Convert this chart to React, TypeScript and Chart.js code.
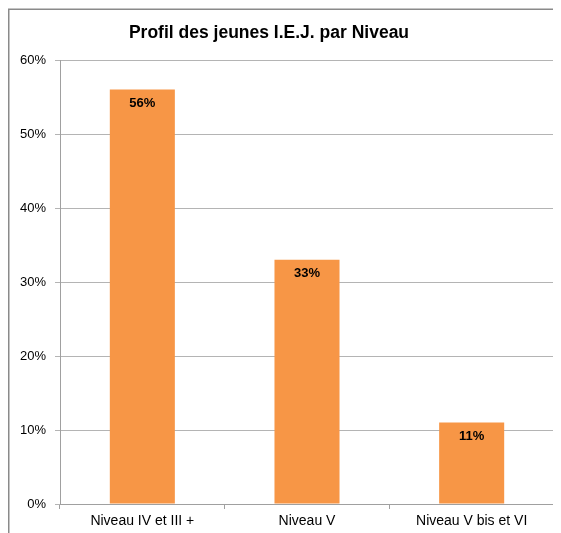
import React, { useEffect, useRef } from "react";
import { Chart, registerables } from "chart.js";

Chart.register(...registerables);

const categories = ["Niveau IV et III +", "Niveau V", "Niveau V bis et VI"];
const values = [0.56, 0.33, 0.11];
const valueLabels = ["56%", "33%", "11%"];
const titleText = "Profil des jeunes I.E.J. par Niveau";
const FONT = "'Liberation Sans', Arial, sans-serif";

const framePlugin = {
  id: "frame",
  beforeDraw(chart: any) {
    const ctx = chart.ctx;
    ctx.save();
    ctx.strokeStyle = "#8a8a8a";
    ctx.lineWidth = 1.5;
    ctx.beginPath();
    ctx.moveTo(0.75, chart.height);
    ctx.lineTo(0.75, 1.25);
    ctx.lineTo(chart.width, 1.25);
    ctx.stroke();
    ctx.fillStyle = "#000";
    ctx.font = `bold 17.5px ${FONT}`;
    ctx.textAlign = "center";
    ctx.textBaseline = "middle";
    ctx.fillText(titleText, 261, 25);
    ctx.restore();
  },
  afterDatasetsDraw(chart: any) {
    const ctx = chart.ctx;
    const meta = chart.getDatasetMeta(0);
    ctx.save();
    ctx.fillStyle = "#000";
    ctx.font = `bold 13px ${FONT}`;
    ctx.textAlign = "center";
    ctx.textBaseline = "middle";
    meta.data.forEach((bar: any, i: number) => {
      ctx.fillText(valueLabels[i], bar.x, bar.y + 14);
    });
    ctx.restore();
  },
};

export default function App() {
  const ref = useRef<HTMLCanvasElement>(null);
  useEffect(() => {
    document.documentElement.style.overflow = "hidden";
    const chart = new Chart(ref.current!, {
      type: "bar",
      data: {
        labels: categories,
        datasets: [
          {
            data: values,
            backgroundColor: "#F79646",
            borderWidth: 0,
            barPercentage: 0.395,
            categoryPercentage: 1,
          },
        ],
      },
      options: {
        responsive: false,
        animation: false,
        layout: { padding: { top: 52, right: 7, left: 0, bottom: 0 } },
        plugins: {
          legend: { display: false },
          title: { display: false },
          tooltip: { enabled: false },
        },
        scales: {
          x: {
            afterFit: (s: any) => {
              s.height = 29;
            },
            grid: {
              drawOnChartArea: false,
              drawTicks: true,
              tickLength: 5,
              color: "#a0a0a0",
              offset: true,
            },
            border: { color: "#a0a0a0" },
            ticks: {
              color: "#000",
              padding: 4,
              font: { family: FONT, size: 14 },
            },
          },
          y: {
            min: 0,
            max: 0.6,
            afterFit: (s: any) => {
              s.width = 52;
            },
            grid: {
              color: "#b4b4b4",
              tickLength: 5,
              drawTicks: true,
            },
            border: { color: "#a0a0a0" },
            ticks: {
              stepSize: 0.1,
              color: "#000",
              padding: 9,
              font: { family: FONT, size: 13 },
              callback: (v: any) => Math.round(Number(v) * 100) + "%",
            },
          },
        },
      },
      plugins: [framePlugin],
    } as any);
    return () => chart.destroy();
  }, []);
  return (
    <canvas
      ref={ref}
      width={553}
      height={525}
      style={{ display: "block", width: 553, height: 525 }}
    />
  );
}
